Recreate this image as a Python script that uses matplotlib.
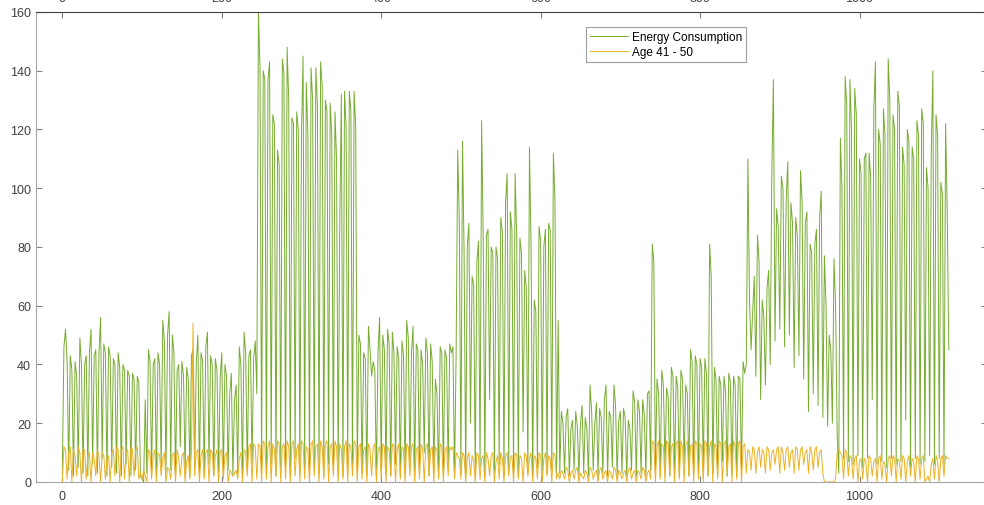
import numpy as np
import matplotlib
matplotlib.use("Agg")
import matplotlib.pyplot as plt

# energy consumption, one value every 2 samples (x = 0, 2, 4, ... 1112)
energy = [
    # 0 - 98
    3, 46, 52, 41, 4, 43, 38, 2, 41, 36, 5, 49, 40, 3, 40, 43, 2, 44, 52, 6,
    43, 45, 3, 44, 56, 8, 47, 44, 2, 46, 43, 5, 42, 40, 3, 44, 39, 2, 40, 38,
    6, 38, 36, 2, 37, 35, 4, 36, 34, 2,
    # 100 - 106
    1, 0, 28, 3,
    # 108 - 244
    45, 41, 3, 40, 42, 2, 44, 40, 5, 55, 48, 3, 50, 58, 4, 50, 44, 2, 38, 40, 12,
    41, 36, 3, 39, 35, 2, 43, 45, 5, 40, 50, 3, 44, 41, 2, 46, 51, 6, 43, 40, 2,
    42, 38, 3, 35, 44, 2, 40, 36, 4, 30, 37, 2, 28, 33, 3, 46, 40, 2, 51, 44, 4,
    43, 45, 6, 42, 48, 30,
    # 246 - 370
    160, 141, 4, 140, 137, 3, 137, 143, 6, 125, 122, 2, 113, 108, 5, 144, 139, 3,
    148, 130, 2, 124, 122, 8, 126, 120, 3, 118, 145, 4, 136, 119, 2, 141, 130, 5,
    141, 128, 3, 143, 135, 2, 130, 126, 6, 129, 118, 3, 126, 110, 4, 87, 132, 2,
    133, 121, 5, 133, 126, 3, 133, 121, 4,
    # 372 - 494
    50, 47, 3, 44, 42, 2, 53, 45, 36, 41, 38, 2, 44, 56, 4, 50, 45, 3, 52, 47, 2,
    51, 44, 6, 46, 42, 2, 48, 43, 3, 55, 49, 5, 44, 53, 2, 47, 45, 3, 45, 40, 10,
    49, 44, 2, 47, 41, 4, 35, 30, 2, 46, 44, 3, 45, 42, 5, 47, 44, 46, 2, 44,
    # 496 - 624
    113, 88, 4, 116, 78, 2, 80, 88, 20, 70, 67, 3, 75, 82, 5, 123, 82, 2,
    84, 86, 28, 80, 78, 3, 80, 76, 6, 90, 85, 2, 95, 105, 4, 92, 86, 3,
    105, 83, 2, 83, 78, 17, 72, 66, 3, 114, 80, 2, 62, 58, 5, 87, 82, 2,
    80, 86, 3, 88, 86, 4, 112, 95, 3, 55, 3,
    # 626 - 858
    24, 20, 3, 22, 25, 2, 18, 21, 4, 24, 19, 2, 20, 26, 3, 22, 18, 2, 33, 24, 4,
    20, 27, 2, 25, 22, 3, 28, 33, 2, 24, 22, 5, 33, 26, 2, 21, 24, 3, 25, 22, 2,
    21, 18, 4, 31, 27, 2, 28, 24, 3, 28, 23, 2, 30, 31, 4, 81, 75, 3, 35, 30, 2,
    38, 33, 5, 32, 29, 2, 39, 36, 3, 36, 32, 2, 38, 35, 6, 33, 30, 2, 45, 41, 3,
    43, 40, 2, 42, 39, 4, 42, 37, 2, 81, 70, 3, 39, 35, 2, 36, 33, 7, 36, 31, 2,
    37, 34, 3, 36, 33, 2, 36, 35, 4, 41, 37, 40,
    # 860 - 974
    110, 62, 45, 58, 70, 36, 84, 75, 28, 62, 56, 33, 66, 72, 40, 105, 137, 48,
    93, 87, 52, 104, 100, 46, 96, 109, 50, 95, 88, 39, 90, 84, 43, 106, 95, 35,
    88, 92, 24, 81, 78, 30, 81, 86, 26, 90, 99, 22, 77, 60, 19, 50, 45, 20,
    76, 60, 16, 3,
    # 976 - 1112
    117, 100, 8, 138, 128, 7, 137, 120, 6, 134, 125, 9, 110, 105, 5, 110, 112, 8,
    112, 104, 28, 127, 143, 6, 120, 115, 7, 127, 118, 5, 144, 130, 8, 125, 120, 6,
    133, 128, 7, 114, 108, 21, 120, 116, 5, 114, 110, 8, 123, 118, 6, 127, 122, 7,
    107, 100, 9, 112, 140, 6, 125, 118, 8, 102, 98, 6, 122, 93, 45,
]

# age group 41 - 50, same sampling
age_41_50 = [
    # 0 - 98
    0, 12, 11, 1, 10, 12, 0, 11, 9, 2, 12, 10, 0, 11, 11, 1, 9, 10, 0, 10,
    8, 2, 11, 9, 0, 10, 9, 1, 8, 9, 0, 10, 11, 2, 12, 11, 0, 11, 12, 1,
    10, 11, 0, 12, 11, 2, 11, 12, 1, 3,
    # 100 - 106
    1, 4, 2, 0,
    # 108 - 244
    11, 10, 1, 9, 11, 0, 10, 9, 2, 8, 10, 0, 5, 4, 1, 9, 10, 0, 11, 8, 2,
    9, 10, 0, 7, 9, 1, 10, 54, 2, 10, 11, 0, 9, 11, 1, 10, 11, 0, 11, 10, 2,
    9, 11, 0, 10, 11, 1, 9, 10, 0, 4, 3, 2, 3, 4, 1, 8, 10, 0, 11, 10, 2,
    12, 13, 0, 13, 12, 1,
    # 246 - 370
    13, 12, 0, 14, 13, 1, 12, 14, 0, 13, 11, 2, 14, 13, 0, 12, 13, 1, 14, 12, 0,
    13, 14, 2, 11, 13, 0, 14, 13, 1, 12, 11, 0, 13, 14, 2, 12, 13, 0, 14, 12, 1,
    13, 14, 0, 12, 13, 2, 14, 12, 0, 13, 11, 1, 12, 14, 0, 13, 12, 2, 14, 13, 0,
    # 372 - 494
    12, 13, 1, 11, 12, 0, 13, 11, 2, 12, 13, 0, 11, 12, 1, 13, 12, 0, 12, 11, 2,
    13, 12, 0, 11, 13, 1, 12, 11, 0, 13, 12, 2, 12, 13, 0, 11, 12, 1, 13, 11, 0,
    12, 13, 2, 11, 12, 0, 12, 11, 1, 13, 12, 0, 11, 12, 2, 12, 11, 12, 1, 10,
    # 496 - 624
    9, 8, 1, 10, 9, 0, 8, 10, 2, 9, 7, 0, 10, 9, 1, 8, 9, 0, 10, 8, 2,
    9, 10, 0, 7, 9, 1, 10, 8, 0, 9, 10, 2, 8, 9, 0, 10, 9, 1, 9, 8, 0,
    10, 9, 2, 8, 10, 0, 9, 8, 1, 10, 9, 0, 8, 10, 2, 9, 8, 0, 10, 9, 1, 3, 1,
    # 626 - 858
    4, 3, 1, 5, 4, 0, 3, 4, 1, 4, 5, 0, 3, 2, 1, 4, 3, 0, 5, 4, 1,
    3, 4, 0, 4, 5, 1, 3, 4, 0, 4, 3, 1, 5, 4, 0, 4, 3, 1, 3, 4, 0,
    4, 5, 1, 3, 4, 0, 4, 3, 1, 5, 4, 0, 3, 4, 1,
    14, 13, 0, 12, 14, 1, 13, 12, 0, 14, 13, 2, 12, 13, 0, 13, 14, 1, 14, 12, 0,
    13, 14, 2, 12, 13, 0, 14, 13, 1, 13, 12, 0, 14, 13, 2, 12, 14, 0, 13, 12, 1,
    14, 13, 0, 13, 14, 2, 12, 13, 0, 14, 12, 1, 13, 14, 0, 12, 13, 3,
    # 860 - 974
    11, 10, 4, 12, 11, 3, 10, 12, 5, 11, 10, 3, 12, 11, 4, 10, 11, 6,
    11, 12, 3, 12, 10, 4, 11, 12, 5, 10, 11, 3, 12, 11, 4, 11, 12, 6,
    10, 11, 3, 12, 10, 4, 11, 12, 5, 10, 11, 3, 0, 0, 0, 0, 0, 0, 0, 1, 10, 11,
    # 976 - 1112
    10, 9, 1, 11, 10, 2, 9, 8, 1, 8, 9, 0, 7, 8, 1, 8, 7, 0, 9, 8, 2,
    7, 8, 0, 8, 9, 1, 7, 6, 0, 8, 9, 2, 9, 8, 0, 8, 7, 1, 9, 8, 0,
    7, 9, 2, 8, 7, 0, 9, 8, 1, 8, 9, 0, 1, 2, 0, 6, 8, 1, 9, 7, 0,
    8, 9, 2, 9, 8, 8,
]

x_ticks = [0, 200, 400, 600, 800, 1000]
y_ticks = [0, 20, 40, 60, 80, 100, 120, 140, 160]

x = np.arange(len(energy)) * 2

plt.rcParams['font.family'] = ['Liberation Sans', 'DejaVu Sans']

fig = plt.figure(figsize=(9.84, 5.06), dpi=100)
ax = fig.add_axes([0.0366, 0.0455, 0.9665, 0.9289])

ax.plot(x, energy, color='#77AC30', lw=0.7, label='Energy Consumption')
ax.plot(x, age_41_50, color='#EDB120', lw=0.7, label='Age 41 - 50')

ax.set_xlim(-33, 1160)
ax.set_ylim(0, 160)
ax.set_xticks(x_ticks)
ax.set_yticks(y_ticks)

# ticks on all four sides, labels only left/bottom/top (top ones run off the edge)
ax.tick_params(direction='in', length=4, width=0.8, colors='#808080',
               labelcolor='#404040', labelsize=9,
               top=True, labeltop=True, right=True, labelright=False)
ax.tick_params(axis='x', pad=6)
for side in ['left', 'bottom', 'right']:
    ax.spines[side].set_color('#a6a6a6')
ax.spines['top'].set_color('#404040')

leg = ax.legend(loc='upper left', bbox_to_anchor=(586 / 984, 1 - 28 / 506),
                bbox_transform=fig.transFigure, fontsize=8.5, fancybox=False,
                framealpha=1, edgecolor='#a0a0a0', handlelength=3.2,
                borderpad=0.35, labelspacing=0.25, handletextpad=0.35,
                borderaxespad=0)
leg.get_frame().set_linewidth(0.8)

fig.savefig('out.png', dpi=100)
